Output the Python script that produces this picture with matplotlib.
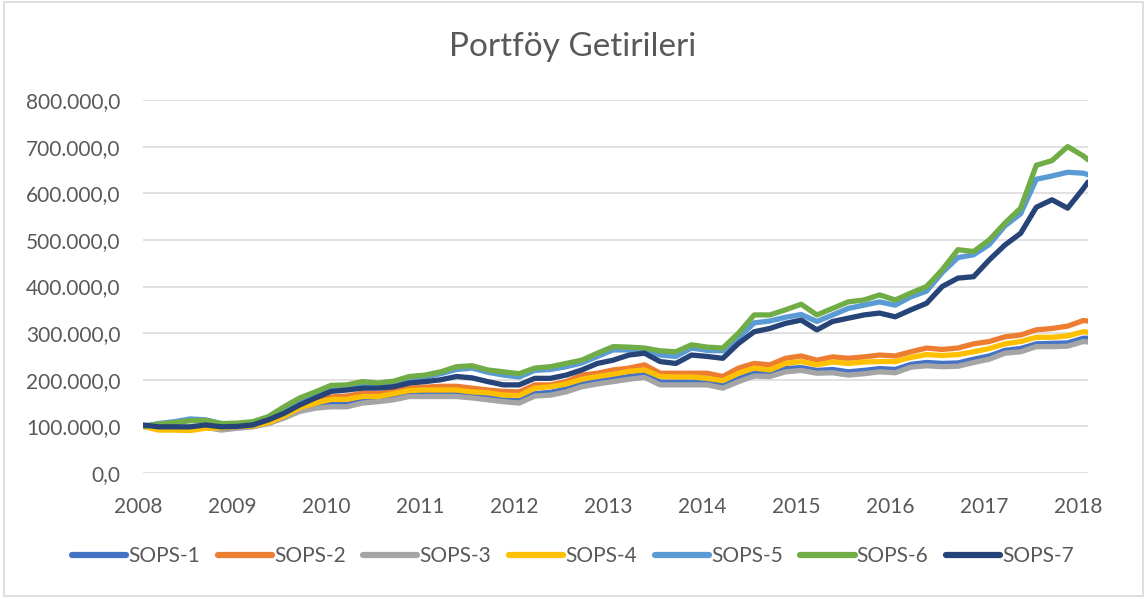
import matplotlib
matplotlib.use("Agg")
import matplotlib.pyplot as plt
import matplotlib.transforms as mtransforms
from matplotlib.patches import Rectangle
from matplotlib.ticker import FuncFormatter

# time axis: decimal years, every two months from Jan 2008, last point mid-Jan 2018
years = [2008 + i / 6 for i in range(61)] + [2018.05]

# portfolio values in thousands
sops1 = [100, 97, 96, 96, 98, 94, 97, 100, 107, 120, 135, 143, 147, 147, 155, 158, 162, 169, 169, 169,
         170, 166, 162, 158, 156, 170, 173, 180, 191, 197, 202, 207, 211, 195, 195, 195, 195, 188, 202, 215,
         212, 224, 226, 220, 222, 217, 220, 224, 222, 233, 237, 235, 236, 244, 251, 263, 267, 277, 278, 279,
         289, 289]
sops2 = [100, 98, 97, 97, 99, 96, 98, 100, 109, 124, 142, 154, 163, 165, 171, 170, 176, 182, 184, 186,
         186, 182, 178, 175, 174, 189, 189, 196, 210, 214, 221, 225, 232, 214, 214, 214, 214, 207, 225, 235,
         232, 246, 251, 242, 249, 246, 249, 253, 251, 260, 268, 265, 268, 277, 282, 292, 296, 307, 310, 315,
         327, 326]
sops3 = [100, 98, 97, 97, 98, 92, 96, 99, 106, 118, 132, 139, 142, 142, 150, 153, 157, 164, 164, 164,
         164, 161, 157, 153, 150, 165, 167, 174, 185, 191, 196, 201, 205, 189, 189, 189, 189, 182, 196, 208,
         207, 217, 220, 214, 215, 210, 213, 217, 215, 227, 230, 228, 229, 237, 244, 257, 260, 271, 271, 272,
         282, 281]
sops4 = [100, 92, 92, 91, 96, 97, 100, 101, 108, 122, 140, 150, 158, 158, 164, 164, 170, 177, 178, 178,
         178, 174, 172, 167, 166, 182, 185, 191, 201, 207, 212, 218, 221, 207, 206, 206, 203, 198, 214, 225,
         221, 235, 239, 232, 238, 235, 238, 239, 239, 248, 254, 252, 254, 260, 267, 277, 282, 291, 291, 294,
         303, 302]
sops5 = [100, 106, 110, 116, 114, 106, 105, 106, 117, 138, 158, 170, 183, 186, 191, 189, 192, 200, 206, 213,
         222, 225, 216, 210, 206, 220, 222, 228, 236, 250, 264, 264, 264, 253, 250, 268, 263, 262, 290, 322,
         326, 334, 340, 325, 339, 353, 360, 367, 360, 378, 390, 430, 462, 468, 490, 530, 556, 630, 637, 645,
         643, 640]
sops6 = [100, 105, 108, 112, 113, 106, 107, 110, 121, 142, 161, 174, 188, 189, 196, 193, 197, 207, 210, 217,
         228, 230, 221, 217, 213, 225, 228, 235, 242, 257, 271, 270, 268, 262, 260, 275, 270, 268, 300, 339,
         339, 350, 362, 339, 353, 367, 371, 382, 371, 386, 400, 436, 479, 475, 500, 536, 568, 660, 670, 700,
         680, 672]
sops7 = [103, 99, 99, 99, 103, 99, 100, 103, 114, 128, 146, 161, 175, 178, 182, 182, 185, 193, 196, 200,
         207, 204, 196, 189, 189, 203, 203, 210, 221, 235, 242, 253, 257, 239, 235, 253, 250, 246, 278, 303,
         310, 321, 328, 307, 325, 332, 339, 343, 335, 350, 364, 400, 418, 421, 457, 489, 514, 570, 586, 568,
         610, 624]

series_names = ["SOPS-1", "SOPS-2", "SOPS-3", "SOPS-4", "SOPS-5", "SOPS-6", "SOPS-7"]
series_values = [sops1, sops2, sops3, sops4, sops5, sops6, sops7]
colors = ["#4472C4", "#ED7D31", "#A5A5A5", "#FFC000", "#5B9BD5", "#70AD47", "#264478"]
year_ticks = list(range(2008, 2019))
title = "Portföy Getirileri"

FONT = ["Lato", "DejaVu Sans"]
plt.rcParams["font.family"] = FONT
TXT = "#595959"

fig = plt.figure(figsize=(11.46, 5.99), dpi=100)
W, H = 1146, 599
ax = fig.add_axes([143 / W, 1 - 473 / H, (1088 - 143) / W, (473 - 100) / H])

for name, vals, c in zip(series_names, series_values, colors):
    ax.plot(years, [v * 1000 for v in vals], color=c, lw=3.8, label=name,
            solid_joinstyle="round", solid_capstyle="round")

ax.set_xlim(2008, 2018.05)
ax.set_ylim(0, 800000)
ax.set_yticks(range(0, 800001, 100000))
ax.set_xticks(year_ticks)
ax.set_xticklabels([str(y) for y in year_ticks])


def tr_fmt(v, pos):
    s = f"{int(round(v)):,}".replace(",", ".")
    return s + ",0"


ax.yaxis.set_major_formatter(FuncFormatter(tr_fmt))
ax.grid(axis="y", color="#D9D9D9", lw=1.1)
ax.set_axisbelow(True)
for s in ax.spines.values():
    s.set_visible(False)
ax.tick_params(axis="both", length=0, colors=TXT, labelsize=15)
ax.tick_params(axis="y", pad=16)
ax.tick_params(axis="x", pad=17)
offset = mtransforms.ScaledTranslation(-5 / 100, 0, fig.dpi_scale_trans)
for lab in ax.get_xticklabels():
    lab.set_transform(lab.get_transform() + offset)

fig.text(0.5, 1 - 47 / H, title, ha="center", va="center", fontsize=24, color=TXT)

leg = fig.legend(loc="center", bbox_to_anchor=(0.5, 1 - 556 / H), ncol=7, frameon=False,
                 fontsize=15, handlelength=2.6, handletextpad=0.1, columnspacing=0.85)
for h in leg.get_lines():
    h.set_linewidth(4.5)
    h.set_solid_capstyle("round")
for t in leg.get_texts():
    t.set_color(TXT)

fig.patches.append(Rectangle((4 / W, 1 - 596 / H), (1143 - 4) / W, (596 - 2) / H,
                             transform=fig.transFigure, fill=False, edgecolor="#D9D9D9", lw=1.2))

fig.savefig("out.png", dpi=100)
